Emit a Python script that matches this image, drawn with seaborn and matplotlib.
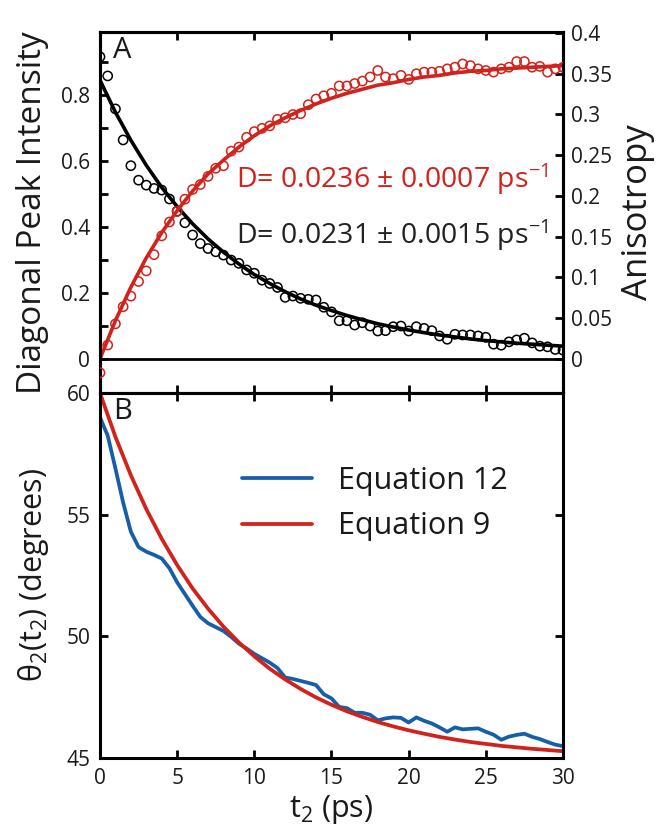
import numpy as np
import pandas as pd
import seaborn as sns
import matplotlib.pyplot as plt
from matplotlib.ticker import FixedLocator, MultipleLocator, FuncFormatter

# time grids (ps)
t_data = np.arange(0, 30.5, 0.5)
t_fit = np.arange(0, 31, 1)

# panel A: diagonal peak intensity (left axis), black circles
intensity = [0.916, 0.858, 0.758, 0.664, 0.586, 0.542, 0.527, 0.517, 0.512, 0.485,
             0.448, 0.413, 0.376, 0.350, 0.335, 0.325, 0.315, 0.300, 0.290, 0.270,
             0.260, 0.239, 0.229, 0.217, 0.187, 0.191, 0.184, 0.181, 0.179, 0.157,
             0.143, 0.116, 0.116, 0.103, 0.110, 0.100, 0.085, 0.086, 0.098, 0.100,
             0.085, 0.098, 0.093, 0.086, 0.070, 0.060, 0.075, 0.073, 0.073, 0.070,
             0.066, 0.045, 0.042, 0.052, 0.058, 0.063, 0.049, 0.039, 0.037, 0.029,
             0.027]
intensity_fit = [0.845, 0.748, 0.663, 0.587, 0.520, 0.462, 0.410, 0.364, 0.324, 0.288,
                 0.256, 0.229, 0.204, 0.182, 0.163, 0.147, 0.132, 0.119, 0.107, 0.097,
                 0.088, 0.080, 0.073, 0.067, 0.061, 0.056, 0.052, 0.048, 0.045, 0.042,
                 0.039]

# panel A: anisotropy (right axis), red circles
anisotropy = [-0.017, 0.017, 0.043, 0.064, 0.077, 0.095, 0.108, 0.128, 0.151, 0.168,
              0.181, 0.196, 0.208, 0.214, 0.224, 0.234, 0.237, 0.255, 0.260, 0.272,
              0.279, 0.283, 0.286, 0.294, 0.296, 0.300, 0.301, 0.312, 0.319, 0.323,
              0.326, 0.335, 0.335, 0.338, 0.341, 0.346, 0.354, 0.346, 0.344, 0.348,
              0.343, 0.350, 0.352, 0.352, 0.353, 0.356, 0.358, 0.362, 0.360, 0.356,
              0.354, 0.352, 0.356, 0.358, 0.365, 0.365, 0.358, 0.359, 0.352, 0.356,
              0.358]
anisotropy_fit = [0.000, 0.047, 0.088, 0.124, 0.155, 0.182, 0.206, 0.227, 0.244, 0.260,
                  0.274, 0.286, 0.296, 0.305, 0.313, 0.320, 0.326, 0.331, 0.336, 0.339,
                  0.343, 0.346, 0.348, 0.351, 0.353, 0.354, 0.356, 0.357, 0.358, 0.359,
                  0.360]

# panel B: theta_2(t_2) in degrees
theta_eq12 = [59.00, 58.25, 56.90, 55.50, 54.30, 53.67, 53.48, 53.35, 53.20, 52.80,
              52.22, 51.74, 51.26, 50.80, 50.54, 50.38, 50.22, 49.98, 49.70, 49.50,
              49.28, 49.10, 48.92, 48.70, 48.31, 48.25, 48.17, 48.09, 48.00, 47.62,
              47.45, 47.10, 47.05, 46.86, 46.86, 46.78, 46.55, 46.63, 46.67, 46.65,
              46.46, 46.67, 46.53, 46.42, 46.26, 46.08, 46.26, 46.18, 46.20, 46.22,
              46.08, 45.96, 45.75, 45.88, 45.95, 46.00, 45.87, 45.78, 45.66, 45.55,
              45.49]
theta_eq9 = [60.00, 58.20, 56.62, 55.23, 54.01, 52.93, 51.97, 51.14, 50.40, 49.75,
             49.18, 48.67, 48.23, 47.84, 47.49, 47.19, 46.92, 46.69, 46.48, 46.30,
             46.14, 46.00, 45.87, 45.76, 45.66, 45.58, 45.50, 45.44, 45.38, 45.33,
             45.28]

RED = "#d3211b"
BLUE = "#175ea8"

sns.set_theme(style="ticks")
plt.rcParams['font.family'] = ['Open Sans', 'DejaVu Sans']
plt.rcParams['mathtext.fontset'] = 'custom'
plt.rcParams['mathtext.rm'] = 'Open Sans'
plt.rcParams['mathtext.default'] = 'regular'
plt.rcParams['axes.linewidth'] = 2.2
plt.rcParams['axes.edgecolor'] = 'black'
plt.rcParams['text.color'] = '#1a1a1a'
plt.rcParams['axes.labelcolor'] = '#1a1a1a'
plt.rcParams['xtick.color'] = 'black'
plt.rcParams['ytick.color'] = 'black'
plt.rcParams['xtick.labelcolor'] = '#1a1a1a'
plt.rcParams['ytick.labelcolor'] = '#1a1a1a'

fig = plt.figure(figsize=(6.57, 8.32), dpi=100)
ax1 = fig.add_axes([0.1522, 0.5276, 0.7047, 0.4339])
ax2 = fig.add_axes([0.1522, 0.0889, 0.7047, 0.4387])
ax1r = ax1.twinx()

df_a = pd.DataFrame({"t": t_data, "intensity": intensity, "anisotropy": anisotropy})
df_fit = pd.DataFrame({"t": t_fit, "intensity": intensity_fit, "anisotropy": anisotropy_fit,
                       "eq9": theta_eq9})
df_b = pd.DataFrame({"t": t_data, "eq12": theta_eq12})

# panel A
ax1.axhline(0, color="black", lw=2.0, zorder=1)
sns.scatterplot(data=df_a, x="t", y="intensity", ax=ax1, marker="o", s=44,
                facecolor="none", edgecolor="black", linewidth=1.1, zorder=3)
sns.lineplot(data=df_fit, x="t", y="intensity", ax=ax1, color="black", lw=2.6, zorder=2)
sns.scatterplot(data=df_a, x="t", y="anisotropy", ax=ax1r, marker="o", s=44,
                facecolor="none", edgecolor=RED, linewidth=1.1, zorder=3)
sns.lineplot(data=df_fit, x="t", y="anisotropy", ax=ax1r, color=RED, lw=2.6, zorder=2)

ax1.set_xlim(0, 30)
ax1.set_ylim(-0.103, 0.991)
ax1r.set_ylim(-0.0419, 0.4012)
ax1.set_xlabel("")
ax1.set_ylabel("Diagonal Peak Intensity", fontsize=24, labelpad=9)
ax1r.set_ylabel("Anisotropy", fontsize=25, labelpad=6)

fmt = FuncFormatter(lambda v, p: "%g" % round(v, 3))
ax1.xaxis.set_major_locator(MultipleLocator(5))
ax1.yaxis.set_major_locator(FixedLocator([0, 0.2, 0.4, 0.6, 0.8]))
ax1.yaxis.set_minor_locator(FixedLocator([0.1, 0.3, 0.5, 0.7, 0.9]))
ax1.yaxis.set_major_formatter(fmt)
ax1r.yaxis.set_major_locator(MultipleLocator(0.05))
ax1r.yaxis.set_major_formatter(fmt)
ax1.tick_params(axis="both", which="both", direction="in", length=6, width=2,
                top=True, bottom=True, labelbottom=False, labelsize=15, pad=7)
ax1r.tick_params(axis="y", direction="in", length=6, width=2, labelsize=15, pad=6)

ax1.text(8.8, 0.545, "D= 0.0236 ± 0.0007 ps$^{-1}$", color=RED, fontsize=20.5, va="center")
ax1.text(8.8, 0.376, "D= 0.0231 ± 0.0015 ps$^{-1}$", color="#222222", fontsize=20.5,
         va="center")
ax1.text(0.028, 0.99, "A", transform=ax1.transAxes, fontsize=21, va="top")

# panel B
sns.lineplot(data=df_b, x="t", y="eq12", ax=ax2, color=BLUE, lw=2.7, label="Equation 12")
sns.lineplot(data=df_fit, x="t", y="eq9", ax=ax2, color=RED, lw=2.7, label="Equation 9")
ax2.set_xlim(0, 30)
ax2.set_ylim(45, 60)
ax2.xaxis.set_major_locator(MultipleLocator(5))
ax2.yaxis.set_major_locator(MultipleLocator(5))
ax2.tick_params(axis="both", direction="in", length=6, width=2, top=True, right=True,
                labelsize=15, pad=7)
ax2.set_xlabel("t$_2$ (ps)", fontsize=22, labelpad=3)
ax2.set_ylabel("θ$_2$(t$_2$) (degrees)", fontsize=22, labelpad=11)
ax2.text(0.028, 0.99, "B", transform=ax2.transAxes, fontsize=21, va="top")
ax2.legend(loc="upper left", bbox_to_anchor=(0.306, 0.80), frameon=False, fontsize=22,
           handlelength=2.3, handletextpad=0.85, labelspacing=0.5,
           borderaxespad=0, borderpad=0)

for ax in (ax1, ax1r, ax2):
    for sp in ax.spines.values():
        sp.set_visible(True)
        sp.set_color("black")
        sp.set_linewidth(2.2)

fig.savefig("out.png", dpi=100)
